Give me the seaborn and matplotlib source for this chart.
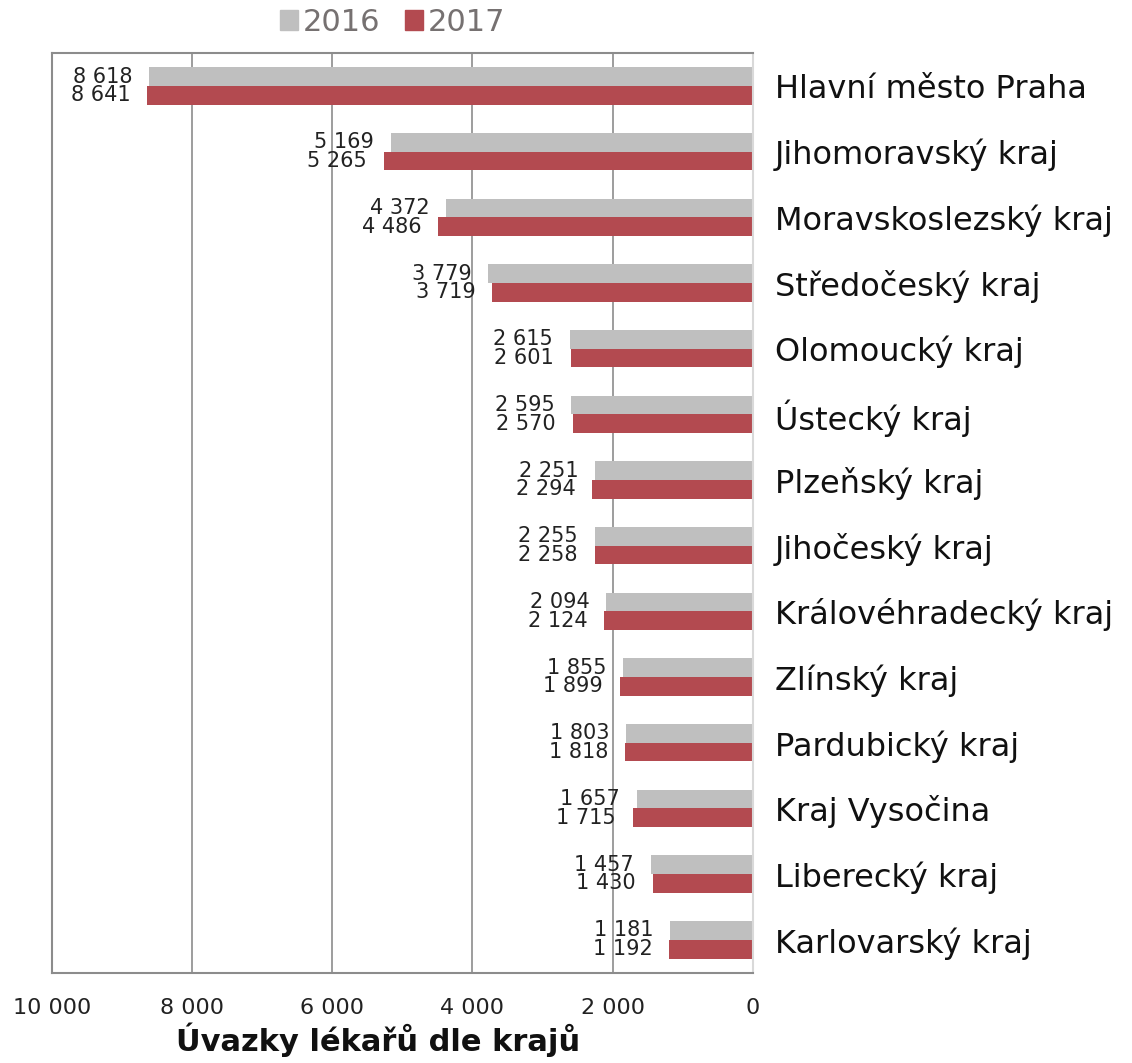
import pandas as pd
import matplotlib.pyplot as plt
import seaborn as sns

kraje = ['Hlavní město Praha', 'Jihomoravský kraj', 'Moravskoslezský kraj',
         'Středočeský kraj', 'Olomoucký kraj', 'Ústecký kraj', 'Plzeňský kraj',
         'Jihočeský kraj', 'Královéhradecký kraj', 'Zlínský kraj',
         'Pardubický kraj', 'Kraj Vysočina', 'Liberecký kraj', 'Karlovarský kraj']
hodnoty_2016 = [8618, 5169, 4372, 3779, 2615, 2595, 2251, 2255, 2094, 1855, 1803, 1657, 1457, 1181]
hodnoty_2017 = [8641, 5265, 4486, 3719, 2601, 2570, 2294, 2258, 2124, 1899, 1818, 1715, 1430, 1192]
roky = ['2016', '2017']
x_ticks = [0, 2000, 4000, 6000, 8000, 10000]

colores = {'2016': '#BFBFBF', '2017': '#B34A50'}

df = pd.DataFrame({
    'kraj': kraje * 2,
    'rok': ['2016'] * len(kraje) + ['2017'] * len(kraje),
    'hodnota': hodnoty_2016 + hodnoty_2017,
})


def fmt(v):
    return f'{v:,.0f}'.replace(',', ' ')


sns.set_style('white')
plt.rcParams['font.family'] = ['DejaVu Sans']

fig, ax = plt.subplots(figsize=(11.32, 10.63), dpi=100)
fig.subplots_adjust(left=0.046, right=0.665, top=0.950, bottom=0.085)

sns.barplot(data=df, y='kraj', x='hodnota', hue='rok', hue_order=roky,
            palette=colores, orient='h', width=0.57, gap=0, ax=ax,
            saturation=1, legend=False, linewidth=0)

ax.set_xlim(10000, 0)
ax.set_ylim(len(kraje) - 0.5, -0.5)
ax.set_xticks(x_ticks)
ax.set_xticklabels([fmt(t) for t in x_ticks], fontsize=16, color='#222222')
ax.tick_params(axis='x', length=0, pad=18)
ax.xaxis.grid(True, color='#8C8C8C', linewidth=1.2)
ax.set_axisbelow(True)

ax.yaxis.tick_right()
ax.tick_params(axis='y', length=0, pad=16, labelsize=23, labelcolor='#111111')
ax.set_ylabel('')
ax.set_xlabel('Úvazky lékařů dle krajů', fontsize=22, fontweight='bold',
              color='#111111', va='center')
ax.xaxis.set_label_coords(0.465, -0.073)

for s in ['left', 'top', 'bottom']:
    ax.spines[s].set_color('#8C8C8C')
    ax.spines[s].set_linewidth(1.5)
ax.spines['right'].set_color('#D9D9D9')
ax.spines['right'].set_linewidth(1.5)

# popisky hodnot
for cont, rok in zip(ax.containers, roky):
    labels = [fmt(v) for v in cont.datavalues]
    ax.bar_label(cont, labels=labels, padding=12, fontsize=15, color='#222222')

# legenda nahoře
handles = [plt.Rectangle((0, 0), 1, 1, color=colores[r]) for r in roky]
leg = fig.legend(handles, roky, loc='center', bbox_to_anchor=(0.347, 0.979),
                 ncol=2, frameon=False, fontsize=22, handlelength=0.6,
                 handleheight=0.6, handletextpad=0.15, columnspacing=0.8)
for t in leg.get_texts():
    t.set_color('#767171')

plt.savefig('out.png', dpi=100)
